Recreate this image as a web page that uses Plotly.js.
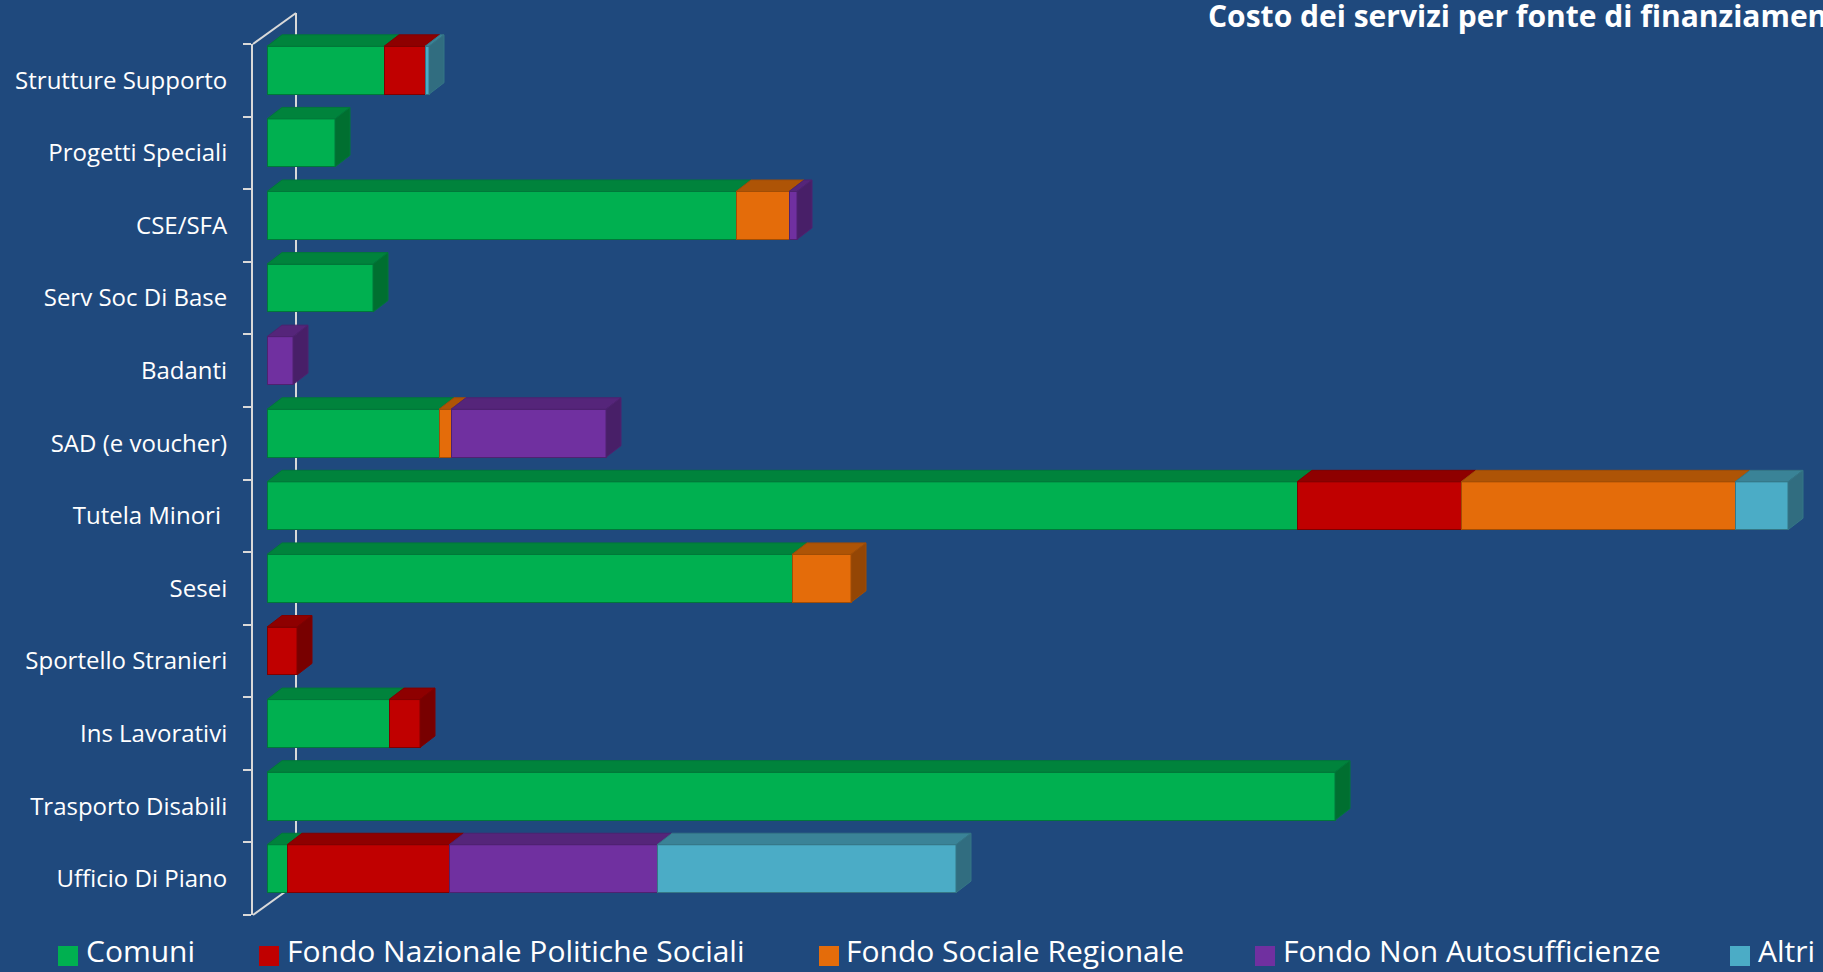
<!DOCTYPE html>
<html>
<head>
<meta charset="utf-8">
<script src="https://cdn.plot.ly/plotly-3.0.1.min.js"></script>
<style>
  html, body { margin: 0; padding: 0; background: #1F497D; }
  #chart { width: 1823px; height: 972px; }
</style>
</head>
<body>
<div id="chart"></div>
<script>
// ---- data (arbitrary cost units; rows listed top to bottom) ----
const categories = ["Strutture Supporto", "Progetti Speciali", "CSE/SFA", "Serv Soc Di Base", "Badanti",
  "SAD (e voucher)", "Tutela Minori ", "Sesei", "Sportello Stranieri", "Ins Lavorativi",
  "Trasporto Disabili", "Ufficio Di Piano"];
const comuni = [117, 68, 469, 106, 0, 172, 1030, 525, 0, 122, 1068, 20];
const fondoNazionale = [41, 0, 0, 0, 0, 0, 164, 0, 30, 31, 0, 162];
const fondoRegionale = [0, 0, 53, 0, 0, 12, 274, 59, 0, 0, 0, 0];
const fondoNonAuto = [0, 0, 8, 0, 26, 155, 0, 0, 0, 0, 0, 208];
const altri = [4, 0, 0, 0, 0, 0, 53, 0, 0, 0, 0, 299];
const seriesNames = ["Comuni", "Fondo Nazionale Politiche Sociali", "Fondo Sociale Regionale",
  "Fondo Non Autosufficienze", "Altri"];
const seriesValues = [comuni, fondoNazionale, fondoRegionale, fondoNonAuto, altri];

// ---- styles ----
const frontColors = ["#00B050", "#C00000", "#E46C0A", "#7030A0", "#4BACC6"];
const topColors = ["#00833C", "#8E0000", "#AE5406", "#55257A", "#3A8397"];
const sideColors = ["#006F30", "#780000", "#944605", "#481F68", "#316D80"];
const edgeColors = ["#00783A", "#800000", "#A04D06", "#4E2270", "#357686"];
const W = 1823, H = 972;
const px2x = p => p / W;
const px2y = p => 1 - p / H;
const BAR_W = 0.66;
const n = categories.length;
const yIdx = categories.map((c, i) => n - 1 - i);

// x axis: 1 unit per pixel
const xDomain = [253 / W, 1];
const xRange = [-14, 1556];
const plotWpx = (xDomain[1] - xDomain[0]) * W;
const unitPerPxX = (xRange[1] - xRange[0]) / plotWpx;
const yDomain = [px2y(905), px2y(34)];
const pxPerUnitY = (905 - 34) / 12;
const DX = 15 * unitPerPxX;
const DY = 11.5 / pxPerUnitY;

const traces = [];
seriesValues.forEach((vals, s) => {
  traces.push({
    type: "bar", orientation: "h", name: seriesNames[s],
    x: vals.map(v => v || null), y: yIdx,
    width: BAR_W,
    marker: { color: frontColors[s], line: { color: edgeColors[s], width: 1 } },
    showlegend: false, hoverinfo: "x+name"
  });
});

// 3D faces built from the same values
const tops = seriesValues.map(() => ({ x: [], y: [] }));
const sides = seriesValues.map(() => ({ x: [], y: [] }));
for (let r = 0; r < n; r++) {
  const yc = yIdx[r];
  const yt = yc + BAR_W / 2, yb = yc - BAR_W / 2;
  let cum = 0, last = -1, lastEnd = 0;
  seriesValues.forEach((vals, s) => {
    const v = vals[r];
    if (!v) return;
    const x0 = cum, x1 = cum + v;
    const t = tops[s];
    t.x.push(x0, x1, x1 + DX, x0 + DX, x0, null);
    t.y.push(yt, yt, yt + DY, yt + DY, yt, null);
    cum = x1; last = s; lastEnd = x1;
  });
  if (last >= 0) {
    const sd = sides[last];
    sd.x.push(lastEnd, lastEnd + DX, lastEnd + DX, lastEnd, lastEnd, null);
    sd.y.push(yt, yt + DY, yb + DY, yb, yt, null);
  }
}
seriesValues.forEach((vals, s) => {
  traces.push({
    type: "scatter", mode: "lines", x: tops[s].x, y: tops[s].y,
    fill: "toself", fillcolor: topColors[s], line: { color: edgeColors[s], width: 1 },
    hoverinfo: "skip", showlegend: false, cliponaxis: false
  });
  traces.push({
    type: "scatter", mode: "lines", x: sides[s].x, y: sides[s].y,
    fill: "toself", fillcolor: sideColors[s], line: { color: edgeColors[s], width: 1 },
    hoverinfo: "skip", showlegend: false, cliponaxis: false
  });
});

// invisible carrier so the front (label) axis is built
traces.push({
  type: "scatter", mode: "none", x: yIdx.map(() => null), y: yIdx,
  yaxis: "y2", hoverinfo: "skip", showlegend: false
});

const axisColor = "#D9D9D9";
const wallLines = [
  [296, 13, 296, 884],
  [253, 44, 296, 13],
  [253, 915, 296, 884]
];
const shapes = wallLines.map(l => ({
  type: "line", xref: "paper", yref: "paper", layer: "below",
  x0: px2x(l[0]), y0: px2y(l[1]), x1: px2x(l[2]), y1: px2y(l[3]),
  line: { color: axisColor, width: 2 }
}));

// legend (manual, to match the original placement)
const legendPos = [[58, 87], [259, 288], [819, 847], [1255, 1284], [1730, 1759]];
const annotations = [];
seriesNames.forEach((name, s) => {
  const [sq, tx] = legendPos[s];
  shapes.push({
    type: "rect", xref: "paper", yref: "paper",
    x0: px2x(sq), x1: px2x(sq + 20), y0: px2y(966), y1: px2y(946),
    fillcolor: frontColors[s], line: { width: 0 }
  });
  annotations.push({
    xref: "paper", yref: "paper", x: px2x(tx - 2), y: px2y(972),
    xanchor: "left", yanchor: "bottom", showarrow: false, text: name,
    borderpad: 0,
    font: { family: "Open Sans", size: 30, color: "#FFFFFF" }
  });
});

const layout = {
  width: W, height: H,
  margin: { l: 0, r: 0, t: 0, b: 0 },
  paper_bgcolor: "#1F497D", plot_bgcolor: "rgba(0,0,0,0)",
  barmode: "stack",
  showlegend: false,
  font: { family: "Open Sans", color: "#FFFFFF" },
  title: {
    text: "<b>Costo dei servizi per fonte di finanziamento</b>",
    xref: "container", yref: "container",
    x: px2x(1208), xanchor: "left", y: px2y(16), yanchor: "middle",
    font: { family: "Open Sans", size: 30, color: "#FFFFFF" }
  },
  xaxis: { domain: xDomain, range: xRange, visible: false, fixedrange: true },
  yaxis: { domain: yDomain, range: [-0.5, 11.5], visible: false, fixedrange: true },
  yaxis2: {
    domain: [px2y(915), px2y(44)], range: [-0.5, 11.5], anchor: "x", side: "left",
    tickmode: "array", tickvals: yIdx, ticktext: categories,
    ticks: "", ticklen: 0, ticklabelstandoff: 19,
    showline: true, linecolor: axisColor, linewidth: 2,
    showgrid: false, zeroline: false, fixedrange: true,
    tickfont: { family: "Open Sans", size: 24, color: "#FFFFFF" },
    minor: { tickmode: "linear", tick0: -0.5, dtick: 1, ticks: "outside", ticklen: 8,
             tickwidth: 2, tickcolor: axisColor, showgrid: false }
  },
  shapes: shapes,
  annotations: annotations
};

Plotly.newPlot("chart", traces, layout, { displayModeBar: false, staticPlot: true });
</script>
</body>
</html>
